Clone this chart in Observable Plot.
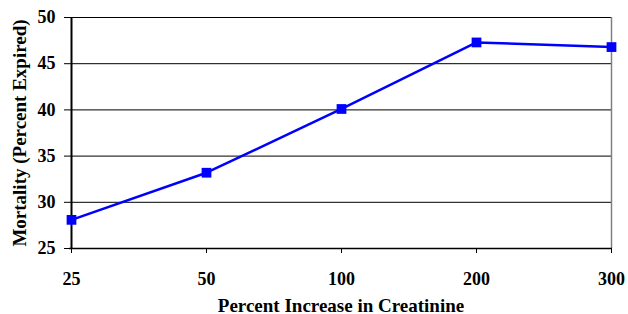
<!DOCTYPE html>
<html>
<head>
<meta charset="utf-8">
<script src="https://cdn.jsdelivr.net/npm/d3@7"></script>
<script src="https://cdn.jsdelivr.net/npm/@observablehq/plot@0.6"></script>
<style>
  html, body { margin: 0; padding: 0; background: #fff; }
</style>
</head>
<body>
<div id="chart"></div>
<script>
const increases = ["25", "50", "100", "200", "300"];
const mortality = [28.1, 33.2, 40.1, 47.3, 46.8];
const yTicks = [25, 30, 35, 40, 45, 50];
const gridValues = [30, 35, 40, 45];

const data = increases.map((c, i) => ({increase: c, mortality: mortality[i]}));

const chart = Plot.plot({
  width: 628,
  height: 314,
  marginLeft: 69,
  marginRight: 16,
  marginTop: 17,
  marginBottom: 66,
  style: {fontFamily: "'Liberation Serif', 'Times New Roman', serif", fontSize: "18px", fontWeight: "bold", color: "#000", background: "#fff"},
  x: {type: "point", domain: increases, padding: 0},
  y: {domain: [25, 50]},
  marks: [
    Plot.ruleY(gridValues, {stroke: "#000", strokeWidth: 1}),
    Plot.ruleY([50], {stroke: "#000", strokeWidth: 1}),
    Plot.ruleX([increases[increases.length - 1]], {stroke: "#808080", strokeWidth: 1.5}),
    Plot.axisY({ticks: yTicks, tickSize: 5, tickPadding: 9, fontSize: 18, label: null}),
    Plot.axisX({tickSize: 5, tickPadding: 19, fontSize: 18, label: null}),
    Plot.text(["Mortality (Percent Expired)"], {frameAnchor: "left", textAnchor: "middle", dx: -50, rotate: -90, fontSize: 19, fontWeight: "bold"}),
    Plot.text(["Percent Increase in Creatinine"], {frameAnchor: "bottom", dy: 63, fontSize: 19, fontWeight: "bold"}),
    Plot.ruleX([increases[0]], {stroke: "#000", strokeWidth: 2}),
    Plot.ruleY([25], {stroke: "#000", strokeWidth: 1.5}),
    Plot.line(data, {x: "increase", y: "mortality", stroke: "#0000FF", strokeWidth: 2.5}),
    Plot.dot(data, {x: "increase", y: "mortality", symbol: "square", fill: "#0000FF", r: 5.5})
  ]
});
document.getElementById("chart").appendChild(chart);
</script>
</body>
</html>
